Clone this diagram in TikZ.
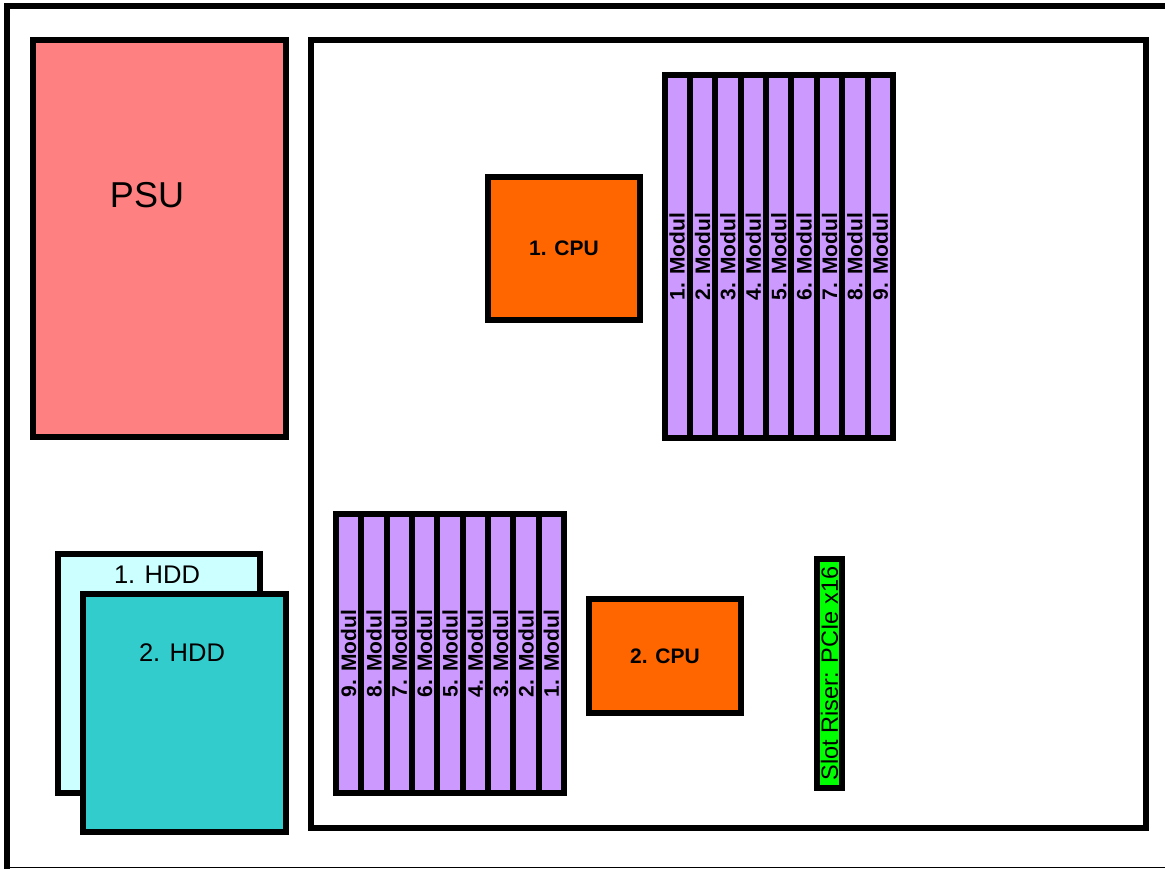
\documentclass[tikz,border=0pt]{standalone}
\usepackage{fontspec}
\setmainfont{Liberation Sans}
\definecolor{psufill}{HTML}{FF8080}
\definecolor{hddone}{HTML}{CCFFFF}
\definecolor{hddtwo}{HTML}{33CCCC}
\definecolor{cpufill}{HTML}{FF6600}
\definecolor{modfill}{HTML}{CC99FF}
\definecolor{riserfill}{HTML}{00FF00}
\begin{document}
\begin{tikzpicture}[x=1pt,y=-1pt,
  box/.style={rectangle,draw=black,line width=6pt,inner sep=0pt,outer sep=0pt},
  cpubox/.style={box,fill=cpufill,font=\bfseries\fontsize{21}{24}\selectfont},
  slotbox/.style={box,fill=modfill,rotate=90,font=\bfseries\fontsize{21}{24}\selectfont},
  lbl/.style={inner sep=0pt}
]
\useasboundingbox (0,0) rectangle (1165,869);
% outer frame (cut by the page)
\draw[line width=6pt] (1180,6) -- (7,6) -- (7,885);
\draw[line width=1pt] (7,867.5) -- (1180,867.5);
% main board
\node[box,minimum width=835pt,minimum height=788pt] (board) at (728.5,434) {};
% PSU
\node[box,fill=psufill,minimum width=253pt,minimum height=397pt] (psu) at (159.5,238.5) {};
\node[lbl,font=\fontsize{36}{42}\selectfont] (psutext) at (147,195) {PSU};
% HDDs
\node[box,fill=hddone,minimum width=202pt,minimum height=239pt] (hdd1) at (159,673.5) {};
\node[lbl,font=\fontsize{25.5}{30}\selectfont] (hdd1text) at (157,575) {1. HDD};
\node[box,fill=hddtwo,minimum width=203pt,minimum height=238pt] (hdd2) at (184.5,713) {};
\node[lbl,font=\fontsize{25.5}{30}\selectfont] (hdd2text) at (182,653) {2. HDD};
% CPUs
\node[cpubox,minimum width=152pt,minimum height=143pt] (cpu1) at (564,248.5) {1. CPU};
\node[cpubox,minimum width=152pt,minimum height=114pt] (cpu2) at (665,656) {2. CPU};
% memory modules, CPU 1
\foreach \i in {1,...,9}{
  \node[slotbox,minimum width=363pt,minimum height=25.39pt] (ua\i) at ({664.5+25.39*(\i-0.5)},256.5) {\i. Modul};
}
% memory modules, CPU 2
\foreach \i in {1,...,9}{
  \node[slotbox,minimum width=279pt,minimum height=25.33pt] (lb\i) at ({564-25.33*(\i-0.5)},653.5) {\i. Modul};
}
% slot riser
\node[box,fill=riserfill,minimum width=25pt,minimum height=229pt] (riser) at (829.5,673.5) {};
\node[lbl,rotate=90,font=\fontsize{23.5}{28}\selectfont] (risertext) at (riser.center) {Slot Riser: PCIe x16};
\end{tikzpicture}
\end{document}
